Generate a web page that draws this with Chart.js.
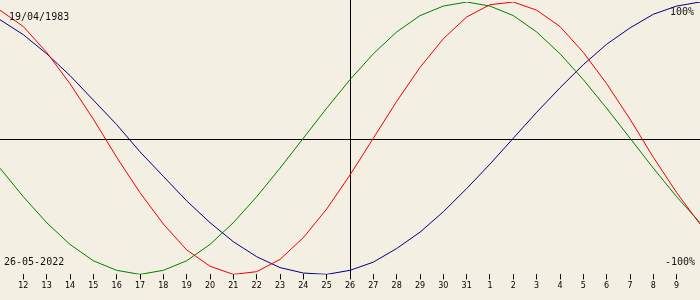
<!DOCTYPE html>
<html>
<head>
<meta charset="utf-8">
<script src="https://cdn.jsdelivr.net/npm/chart.js@4/dist/chart.umd.min.js"></script>
<style>
  html, body { margin: 0; padding: 0; background: #f3efe3; }
  canvas { display: block; }
</style>
</head>
<body>
<canvas id="c" width="700" height="300"></canvas>
<script>
// Day-of-month labels, 11 May 2022 .. 10 June 2022 (index 15 = 26 May)
const dayLabels = [11,12,13,14,15,16,17,18,19,20,21,22,23,24,25,26,27,28,29,30,31,1,2,3,4,5,6,7,8,9,10];
// Physical (red), percent
const physical = [94,82,63,40,14,-14,-40,-63,-82,-94,-100,-98,-89,-73,-52,-27,0,27,52,73,89,98,100,94,82,63,40,14,-14,-40,-63];
// Emotional (green), percent
const emotional = [-22,-43,-62,-78,-90,-97,-100,-97,-90,-78,-62,-43,-22,0,22,43,62,78,90,97,100,97,90,78,62,43,22,0,-22,-43,-62];
// Intellectual (blue), percent
const intellectual = [87,76,62,46,28,10,-10,-28,-46,-62,-76,-87,-95,-99,-100,-97,-91,-81,-69,-54,-37,-19,0,19,37,54,69,81,91,97,100];
const centerIndex = 15;
const birthText = "19/04/1983";
const dateText = "26-05-2022";
const topText = "100%";
const bottomText = "-100%";

const toPts = arr => arr.map((v, i) => ({ x: i, y: v }));

const bgPlugin = {
  id: 'bg',
  beforeDraw(chart) {
    const ctx = chart.ctx;
    ctx.save();
    ctx.fillStyle = '#f3efe3';
    ctx.fillRect(0, 0, chart.width, chart.height);
    ctx.restore();
  }
};

const axesPlugin = {
  id: 'axesLines',
  beforeDatasetsDraw(chart) {
    const ctx = chart.ctx;
    const x = chart.scales.x, y = chart.scales.y;
    const y0 = Math.ceil(y.getPixelForValue(0)) + 0.5;
    const xc = Math.round(x.getPixelForValue(centerIndex)) + 0.5;
    ctx.save();
    ctx.strokeStyle = '#000';
    ctx.lineWidth = 1;
    ctx.beginPath();
    ctx.moveTo(0, y0); ctx.lineTo(chart.width, y0);
    ctx.moveTo(xc, 0); ctx.lineTo(xc, chart.chartArea.bottom + 4);
    ctx.stroke();
    ctx.restore();
  }
};

const textPlugin = {
  id: 'texts',
  afterDraw(chart) {
    const ctx = chart.ctx;
    ctx.save();
    ctx.fillStyle = '#111';
    ctx.font = '10px "DejaVu Sans Mono"';
    ctx.textBaseline = 'middle';
    ctx.textAlign = 'left';
    ctx.fillText(birthText, 9, 17);
    ctx.fillText(dateText, 4, 262);
    ctx.textAlign = 'right';
    ctx.fillText(topText, 694, 12);
    ctx.fillText(bottomText, 695, 262);
    ctx.restore();
  }
};

new Chart(document.getElementById('c'), {
  type: 'line',
  data: {
    datasets: [
      { label: 'Physical', data: toPts(physical), borderColor: '#ee0000', borderWidth: 1, pointRadius: 0, tension: 0, fill: false },
      { label: 'Emotional', data: toPts(emotional), borderColor: '#008000', borderWidth: 1, pointRadius: 0, tension: 0, fill: false },
      { label: 'Intellectual', data: toPts(intellectual), borderColor: '#000080', borderWidth: 1, pointRadius: 0, tension: 0, fill: false }
    ]
  },
  options: {
    responsive: false,
    animation: false,
    layout: { padding: { top: 2, bottom: 7, left: 0, right: 0 } },
    plugins: { legend: { display: false }, tooltip: { enabled: false } },
    scales: {
      x: {
        type: 'linear',
        min: 0,
        max: dayLabels.length - 1,
        afterBuildTicks: s => {
          s.ticks = dayLabels.map((d, i) => ({ value: i })).filter(t => t.value > 0 && t.value < dayLabels.length - 1);
        },
        ticks: {
          autoSkip: false,
          maxRotation: 0,
          padding: 2,
          color: '#000',
          font: { family: 'DejaVu Sans', size: 8 },
          callback: v => String(dayLabels[v])
        },
        grid: { drawOnChartArea: false, drawTicks: true, tickLength: 5, color: '#000', lineWidth: 1 },
        border: { display: false }
      },
      y: { display: false, min: -100, max: 100 }
    }
  },
  plugins: [bgPlugin, axesPlugin, textPlugin]
});
</script>
</body>
</html>
